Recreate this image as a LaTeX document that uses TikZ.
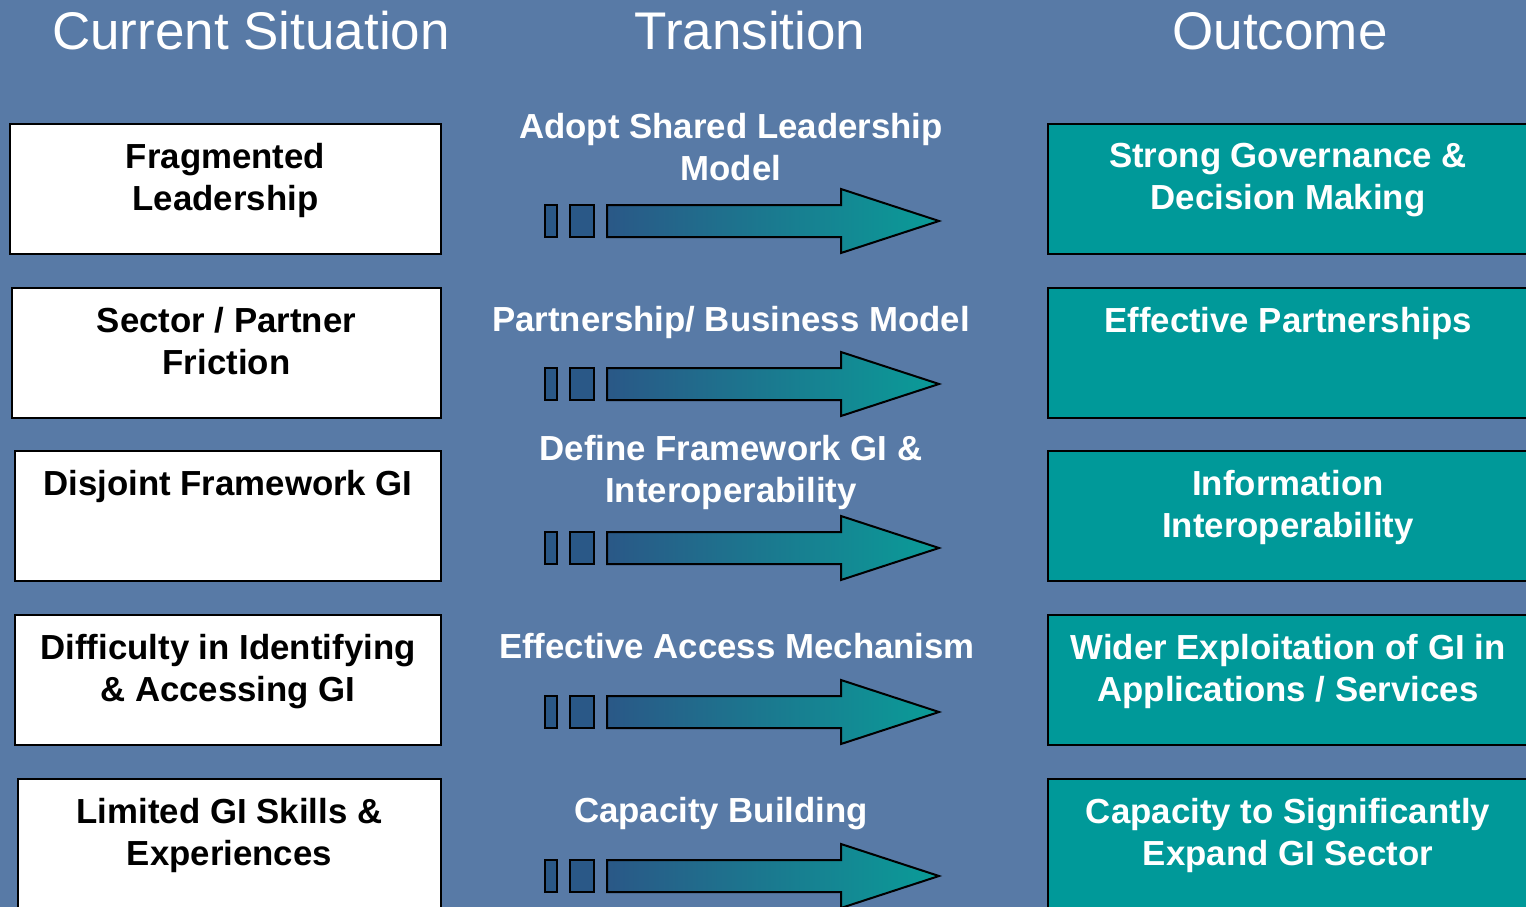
\documentclass[tikz,border=0pt]{standalone}
\usepackage{fontspec}
\setmainfont{Liberation Sans}
\usepackage{tikz}

\definecolor{slidebg}{RGB}{88,122,166}
\definecolor{outteal}{RGB}{0,153,153}
\definecolor{arrowdark}{RGB}{42,88,135}
\definecolor{arrowteal}{RGB}{10,156,152}

\begin{document}
\begin{tikzpicture}[x=1pt,y=-1pt,
    curbox/.style={draw=black,line width=2pt,fill=white,minimum height=130pt,inner sep=0pt},
    outbox/.style={draw=black,line width=2pt,fill=outteal,minimum width=480pt,minimum height=130pt,inner sep=0pt},
    boxtext/.style={font=\fontsize{34.8}{42}\selectfont\bfseries,align=center,anchor=north,inner sep=0pt},
    steptext/.style={boxtext,text=white},
    headtext/.style={font=\fontsize{53}{60}\selectfont,text=white,anchor=base,inner sep=0pt},
    arrowbar/.style={draw=black,line width=2pt,fill=arrowdark}]
      \useasboundingbox (0,0) rectangle (1526,907);
      \clip (0,0) rectangle (1526,907);
      \fill[slidebg] (0,0) rectangle (1526,907);

      % column heads
      \node[headtext] (head-current) at (251,49)  {Current Situation};
      \node[headtext] (head-trans)   at (750,49)  {Transition};
      \node[headtext] (head-outcome) at (1280,49) {Outcome};

      % current situation
      \node[curbox,minimum width=431pt] (cur-lead)     at (225.5,189) {};
      \node[curbox,minimum width=429pt] (cur-friction) at (226.5,353) {};
      \node[curbox,minimum width=426pt] (cur-frame)    at (228,516)   {};
      \node[curbox,minimum width=426pt] (cur-access)   at (228,680)   {};
      \node[curbox,minimum width=423pt] (cur-skills)   at (229.5,844) {};

      \node[boxtext] (cur-lead-txt)     at ([yshift=-20pt]cur-lead.north)     {Fragmented\\Leadership};
      \node[boxtext] (cur-friction-txt) at ([yshift=-20pt]cur-friction.north) {Sector / Partner\\Friction};
      \node[boxtext] (cur-frame-txt)    at ([yshift=-20pt]cur-frame.north)    {Disjoint Framework GI};
      \node[boxtext] (cur-access-txt)   at ([yshift=-20pt]cur-access.north)   {Difficulty in Identifying\\\& Accessing GI};
      \node[boxtext] (cur-skills-txt)   at ([yshift=-20pt]cur-skills.north)   {Limited GI Skills \&\\Experiences};

      % outcome
      \node[outbox] (out-gov)     at (1288,189) {};
      \node[outbox] (out-partner) at (1288,353) {};
      \node[outbox] (out-interop) at (1288,516) {};
      \node[outbox] (out-exploit) at (1288,680) {};
      \node[outbox] (out-expand)  at (1288,844) {};

      \node[steptext] (out-gov-txt)     at ([yshift=-20pt]out-gov.north)     {Strong Governance \&\\Decision Making};
      \node[steptext] (out-partner-txt) at ([yshift=-20pt]out-partner.north) {Effective Partnerships};
      \node[steptext] (out-interop-txt) at ([yshift=-20pt]out-interop.north) {Information\\Interoperability};
      \node[steptext] (out-exploit-txt) at ([yshift=-20pt]out-exploit.north) {Wider Exploitation of GI in\\Applications / Services};
      \node[steptext] (out-expand-txt)  at ([yshift=-20pt]out-expand.north)  {Capacity to Significantly\\Expand GI Sector};

      % transition
      \node[steptext] (tr-lead)    at (731,113) {Adopt Shared Leadership\\Model};
      \node[steptext] (tr-partner) at (731,306) {Partnership/ Business Model};
      \node[steptext] (tr-frame)   at (731,435) {Define Framework GI \&\\Interoperability};
      \node[steptext] (tr-access)  at (737,633) {Effective Access Mechanism};
      \node[steptext] (tr-skills)  at (721,797) {Capacity Building};

      \foreach \ay in {221,384,548,712,876} {
        \filldraw[arrowbar] (545,\ay-16) rectangle (557,\ay+16);
        \filldraw[arrowbar] (570,\ay-16) rectangle (594,\ay+16);
        \shadedraw[left color=arrowdark,right color=arrowteal,draw=black,line width=2pt]
          (607,\ay-16) -- (841,\ay-16) -- (841,\ay-32) -- (939,\ay)
          -- (841,\ay+32) -- (841,\ay+16) -- (607,\ay+16) -- cycle;
      }
    \end{tikzpicture}
\end{document}
